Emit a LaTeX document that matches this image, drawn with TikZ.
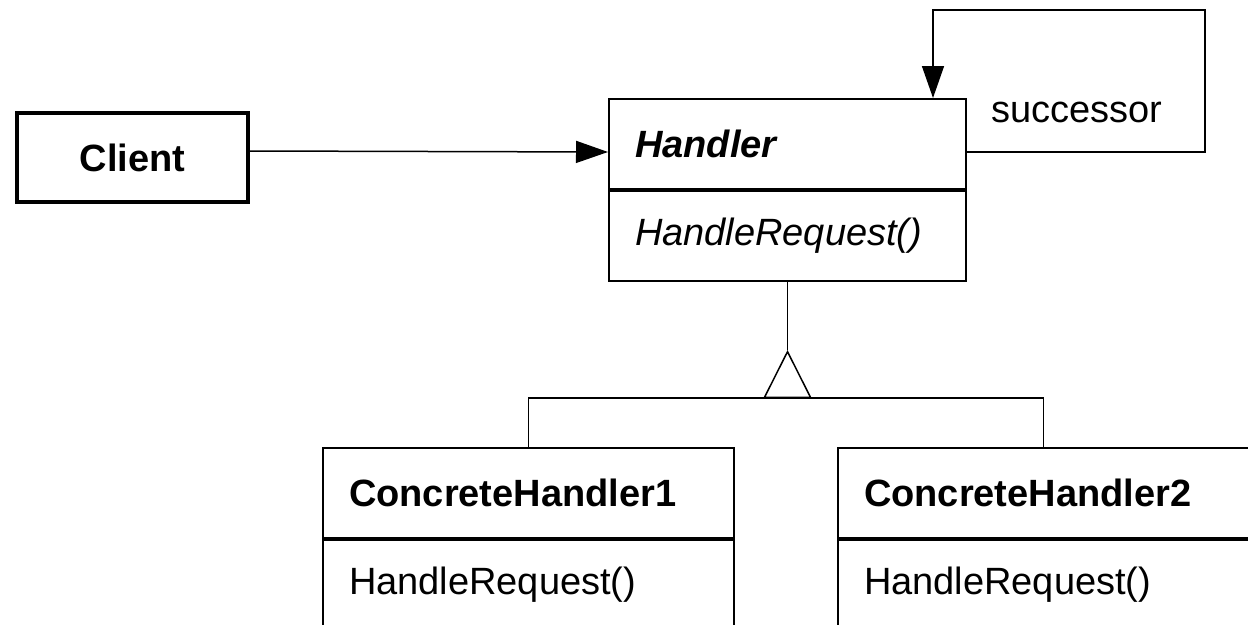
\documentclass[tikz,border=0pt]{standalone}
\usepackage{fontspec}
\setmainfont{Liberation Sans}
\usetikzlibrary{arrows.meta,positioning}
\tikzset{
  classname/.style={draw, line width=2pt, minimum height=90pt, inner xsep=26pt,
    text width=#1, align=left, font=\fontsize{38}{44}\selectfont\bfseries},
  classops/.style={draw, line width=2pt, minimum height=90pt, inner xsep=26pt,
    text width=#1, align=left, font=\fontsize{38}{44}\selectfont},
  assoc/.style={line width=1.5pt, -{Triangle[length=32pt,width=22pt]}},
  inherit/.style={line width=1.5pt, -{Triangle[open,length=48pt,width=48pt]}},
  link/.style={line width=1.5pt}
}

\begin{document}
\begin{tikzpicture}[x=1pt,y=-1pt]
		%%%%% START %%%%%
		\useasboundingbox (0,0) rectangle (1248,624);
		
		\node[draw, line width=3.5pt, minimum width=231pt, minimum height=89pt,
		  font=\fontsize{38}{44}\selectfont\bfseries] (client) at (132.5,157.5) {Client};
		
		\node[classname=305pt, anchor=north west] (handler) at (608,98) {\itshape Handler};
		\node[classops=305pt, below=0pt of handler] (handlerops) {\itshape HandleRequest()};
		
		\node[classname=359pt, anchor=north west] (ch1) at (322,447) {ConcreteHandler1};
		\node[classops=359pt, below=0pt of ch1] (ch1ops) {HandleRequest()};
		
		\node[classname=359pt, anchor=north west] (ch2) at (837,447) {ConcreteHandler2};
		\node[classops=359pt, below=0pt of ch2] (ch2ops) {HandleRequest()};
		
		% client knows the handler
		\draw[assoc] ([yshift=6.5pt]client.east) -- ([yshift=-8pt]handler.west);
		
		% successor loop
		\coordinate (loopcorner) at (1205,10);
		\draw[assoc] ([yshift=-8pt]handler.east) -| (loopcorner) -| ([xshift=-34pt]handler.north east);
		\node[font=\fontsize{38}{44}\selectfont] (succ) at (1077,112) {successor};
		
		% inheritance
		\path (handlerops.south) ++(0,116) coordinate (hub);
		\path (hub) ++(0,-48) coordinate (apex);
		\draw[link] (ch1.north) |- (hub) -| (ch2.north);
		\draw[inherit] (hub) -- (apex);
		\draw[link] (apex) -- (handlerops.south);
		
		%%%%% END %%%%%
	\end{tikzpicture}
\end{document}
